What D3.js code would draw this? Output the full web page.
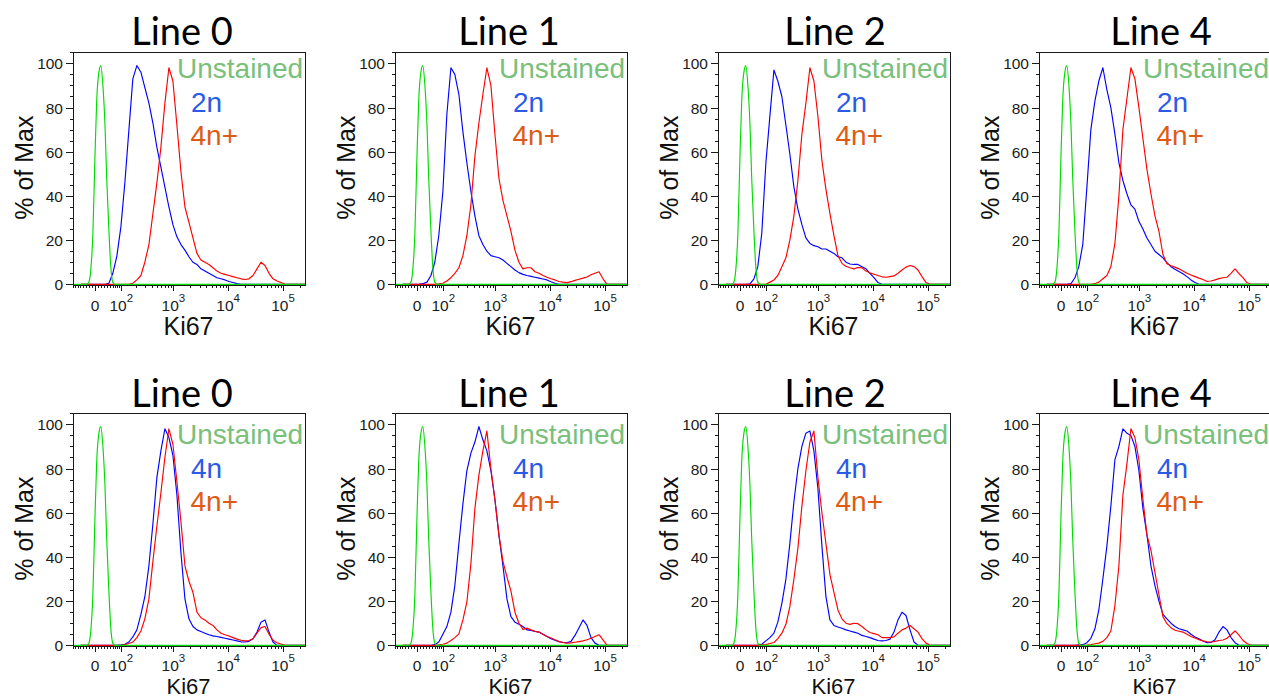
<!DOCTYPE html>
<html>
<head>
<meta charset="utf-8">
<script src="https://cdn.jsdelivr.net/npm/d3@7"></script>
<style>
  html, body { margin: 0; padding: 0; background: #fff; overflow: hidden; }
  svg { display: block; }
</style>
</head>
<body>
<svg id="fig" width="1269" height="699"></svg>
<script>
// ---------------------------------------------------------------
// Ki67 histograms (% of Max) per cell line, on a biexponential axis
// ---------------------------------------------------------------

// Ki67 channel value at each histogram bin centre
const KI67_BINS = [
  -48, -33, -20, -7, 5, 18, 32, 46, 61, 78,
  98, 120, 146, 175, 210, 251, 298, 355, 421, 499,
  591, 700, 829, 981, 1161, 1375, 1627, 1925, 2277, 2694,
  3187, 3770, 4460, 5277, 6242, 7385, 8736, 10335, 12227, 14465,
  17112, 20244, 23949, 28332, 33518, 39652, 46909, 55494, 65650, 77665,
  91879, 108694, 128587, 152120, 179960, 212895, 251857
];

// Unstained control (same in every panel)
const UNSTAINED_KI67 = [-80, -33, -27, -20, -14, -7, -1, 5, 12, 18, 25, 32, 38, 46, 53, 61, 70, 262144];
const UNSTAINED_PCT  = [0, 0, 0, 1, 6, 23, 55, 83, 96, 99, 90, 72, 48, 24, 8, 1, 0, 0];

// Top row: 2n vs 4n+
const TOP_LINE0_2N = [
  0, 0, 0, 0, 0, 0, 0, 0.5, 5, 12.5,
  26, 46, 70, 93, 99, 96, 89, 82, 73, 62,
  53, 44, 35, 27, 21.5, 18, 15.5, 12.5, 10, 9,
  7, 6, 5, 4, 3, 2.5, 2, 1.3, 0.8, 0.3,
  0, 0, 0, 0, 0, 0, 0, 0, 0, 0,
  0, 0, 0, 0, 0, 0, 0
];
const TOP_LINE0_4NPLUS = [
  0, 0, 0, 0, 0, 0, 0, 0, 0, 0,
  0, 0, 0, 0.5, 2, 4, 10, 18, 32, 46,
  62, 82, 98, 92, 72, 51, 35, 28, 21, 14,
  11, 10, 9, 7.5, 6, 5, 4.5, 4, 3.5, 3,
  2.5, 2.2, 2.5, 4, 7, 10, 8.5, 5, 2.5, 1.5,
  0.8, 0, 0, 0, 0, 0, 0
];
const TOP_LINE1_2N = [
  0, 0, 0, 0, 0, 0.3, 1, 4, 10, 22,
  42, 77, 98, 95, 86, 69, 55, 42, 31, 22,
  18, 15, 13, 12.5, 12, 11, 9.5, 8, 6.5, 5.3,
  4.5, 4, 3.6, 3.2, 2.8, 2.4, 2, 1.2, 0.5, 0,
  0, 0, 0, 0, 0, 0, 0, 0, 0, 0,
  0, 0, 0, 0, 0, 0, 0
];
const TOP_LINE1_4NPLUS = [
  0, 0, 0, 0, 0, 0, 0, 0, 0, 0.2,
  0.5, 1.5, 3, 5, 7.5, 13, 22, 36, 58, 73,
  86, 98, 90, 68, 48, 38, 31, 24, 15.5, 10,
  7, 7.5, 7.5, 5.7, 5, 4, 3.2, 2.5, 2, 1.3,
  1, 0.8, 1.2, 1.8, 2.3, 2.8, 3.3, 4.3, 5, 5.7,
  2.5, 0, 0, 0, 0, 0, 0
];
const TOP_LINE2_2N = [
  0, 0, 0, 0, 0, 0, 0.2, 2.5, 8, 23,
  55, 76, 97, 92, 85, 72, 59, 44, 34, 27,
  21, 18.5, 17.5, 17, 16, 16, 15, 14, 12.5, 12,
  10, 9.2, 9, 9, 8, 7, 5, 3, 0.8, 0,
  0, 0, 0, 0, 0, 0, 0, 0, 0, 0,
  0, 0, 0, 0, 0, 0, 0
];
const TOP_LINE2_4NPLUS = [
  0, 0, 0, 0, 0, 0, 0, 0, 0, 0,
  0, 1, 2, 4, 8, 12, 20, 31, 47, 68,
  82, 98, 92, 76, 56, 43, 32, 22, 13, 9.5,
  8.2, 7.5, 7, 7.6, 7.5, 6, 5.2, 4.6, 4, 3.4,
  3.2, 3.5, 3.8, 5, 6.5, 7.8, 8.5, 8, 6.5, 3.5,
  0.8, 0, 0, 0, 0, 0, 0
];
const TOP_LINE4_2N = [
  0, 0, 0, 0, 0, 0, 0.3, 3, 8, 18,
  44, 70, 83, 92, 98, 88, 80, 68, 55, 47,
  41, 36, 34, 28.5, 25, 21, 18, 15, 13.5, 12,
  9.8, 8, 6.8, 5.8, 4.8, 3.5, 2, 0.8, 0, 0,
  0, 0, 0, 0, 0, 0, 0, 0, 0, 0,
  0, 0, 0, 0, 0, 0, 0
];
const TOP_LINE4_4NPLUS = [
  0, 0, 0, 0, 0, 0, 0, 0, 0, 0,
  0, 0, 0.3, 1, 2.5, 4, 8, 18.5, 40, 70,
  84, 98, 93, 80, 66, 52, 41, 31, 24, 13.5,
  9.3, 8.4, 7.8, 7, 6, 5, 4.2, 3.5, 2.8, 2.2,
  1.3, 1.5, 2, 2.6, 3, 3.2, 5, 7, 4.8, 3,
  0.7, 0, 0, 0, 0, 0, 0
];

// Bottom row: 4n vs 4n+
const BOTTOM_LINE0_4N = [
  0, 0, 0, 0, 0, 0, 0, 0, 0, 0,
  0.2, 0.5, 1.5, 3.8, 7, 14, 22, 36, 55, 76,
  88, 98, 94, 86, 68, 42, 21, 12, 8.5, 7,
  6.3, 5.5, 4.8, 4.3, 4, 3.6, 3.2, 2.8, 2.4, 2,
  1.6, 1.5, 1.8, 3, 6, 10.5, 11.5, 6, 1.5, 0,
  0, 0, 0, 0, 0, 0, 0
];
const BOTTOM_LINE0_4NPLUS = [
  0, 0, 0, 0, 0, 0, 0, 0, 0, 0,
  0, 0.3, 0.8, 1.5, 3.5, 6.5, 12, 21, 38, 54,
  69, 85, 98, 91, 74, 56, 36, 29, 24, 15,
  12.5, 11.5, 10, 9, 7, 5.5, 4.8, 4.2, 3.5, 2.8,
  2.3, 2, 2.2, 3, 5.5, 8, 8.5, 5, 2.3, 1.2,
  0.6, 0, 0, 0, 0, 0, 0
];
const BOTTOM_LINE1_4N = [
  0, 0, 0, 0, 0, 0, 0, 0, 0.3, 1.5,
  5, 8.5, 15, 27, 46, 64, 79, 87, 92, 99,
  93, 88, 79, 66, 50, 36, 21, 13, 10.5, 9.5,
  8.5, 7, 6.7, 6.3, 6, 5, 4, 3, 2.3, 1.7,
  1.3, 1.2, 1.8, 4.5, 8, 11.5, 9, 3.5, 1, 0,
  0, 0, 0, 0, 0, 0, 0
];
const BOTTOM_LINE1_4NPLUS = [
  0, 0, 0, 0, 0, 0, 0, 0, 0, 0.2,
  0.5, 1, 2.2, 3.5, 5.2, 11.5, 19.5, 37, 62, 77,
  88, 97, 80, 66, 50, 38, 31, 24.5, 15, 10,
  7.2, 7.8, 7, 6.4, 6, 5, 4, 3.3, 2.5, 1.7,
  1.3, 1, 1.1, 1.4, 1.7, 2, 2.5, 3.2, 4, 4.8,
  2.5, 0, 0, 0, 0, 0, 0
];
const BOTTOM_LINE2_4N = [
  0, 0, 0, 0, 0, 0, 0, 0, 0.1, 0.5,
  2, 3.5, 5.5, 10.5, 19, 30, 46, 65, 80, 90,
  96, 97, 88, 71, 45, 22, 11.5, 9, 8.3, 7.7,
  7, 6.5, 6, 5.5, 4.5, 4, 3.5, 2.8, 2.2, 2,
  2.2, 2.8, 6, 11.5, 15, 13.5, 7, 1.5, 0, 0,
  0, 0, 0, 0, 0, 0, 0
];
const BOTTOM_LINE2_4NPLUS = [
  0, 0, 0, 0, 0, 0, 0, 0, 0, 0.2,
  0.3, 0.8, 1.3, 3, 5.5, 9.5, 17.5, 30, 44, 63,
  79, 92, 97, 76, 60, 46, 32, 24, 16, 12,
  10, 9.5, 10, 9.8, 8.5, 7, 5.8, 5.3, 4.8, 3.5,
  3.5, 3.5, 3.8, 5.5, 7, 7.8, 9, 7.5, 6, 3,
  1, 0, 0, 0, 0, 0, 0
];
const BOTTOM_LINE4_4N = [
  0, 0, 0, 0, 0, 0, 0, 0, 0.2, 0.3,
  1.2, 3.2, 7.5, 16, 30, 45, 63, 84, 90, 98,
  96, 95, 90, 79, 62, 50, 36, 27, 20, 14,
  12, 10, 8.5, 7.5, 7, 6.5, 5, 3.8, 3, 2,
  1.2, 1.3, 2.5, 6, 8.5, 7, 3.5, 1.2, 0, 0,
  0, 0, 0, 0, 0, 0, 0
];
const BOTTOM_LINE4_4NPLUS = [
  0, 0, 0, 0, 0, 0, 0, 0, 0, 0,
  0.1, 0.3, 0.7, 1, 1.8, 3.5, 6.5, 18, 36, 68,
  82, 98, 94, 84, 66, 50, 43, 33, 23, 13,
  9.8, 8, 6.8, 6.4, 6, 5, 4, 3.3, 2.6, 2,
  1.6, 1.5, 1.8, 2.2, 2.4, 3.2, 4.8, 6.5, 4.6, 2.2,
  0.8, 0, 0, 0, 0, 0, 0
];

// Panel titles and the population shown in blue
const PANEL_TITLES = ["Line 0", "Line 1", "Line 2", "Line 4", "Line 0", "Line 1", "Line 2", "Line 4"];
const BLUE_LABELS  = ["2n", "2n", "2n", "2n", "4n", "4n", "4n", "4n"];
const RED_LABEL = "4n+";
const UNSTAINED_LABEL = "Unstained";
const BLUE_SERIES = [TOP_LINE0_2N, TOP_LINE1_2N, TOP_LINE2_2N, TOP_LINE4_2N,
                     BOTTOM_LINE0_4N, BOTTOM_LINE1_4N, BOTTOM_LINE2_4N, BOTTOM_LINE4_4N];
const RED_SERIES  = [TOP_LINE0_4NPLUS, TOP_LINE1_4NPLUS, TOP_LINE2_4NPLUS, TOP_LINE4_4NPLUS,
                     BOTTOM_LINE0_4NPLUS, BOTTOM_LINE1_4NPLUS, BOTTOM_LINE2_4NPLUS, BOTTOM_LINE4_4NPLUS];

// Axis ticks
const Y_TICKS = [0, 20, 40, 60, 80, 100];
const Y_MINOR = [5, 10, 15, 25, 30, 35, 45, 50, 55, 65, 70, 75, 85, 90, 95, 105];
const X_MAJOR = [0, 100, 1000, 10000, 100000];
const X_MAJOR_BASE = ["0", "10", "10", "10", "10"];
const X_MAJOR_EXP  = ["", "2", "3", "4", "5"];
const X_MINOR = [-80, -70, -60, -50, -40, -30, -20, -10,
  10, 20, 30, 40, 50, 60, 70, 80, 90,
  200, 300, 400, 500, 600, 700, 800, 900,
  2000, 3000, 4000, 5000, 6000, 7000, 8000, 9000,
  20000, 30000, 40000, 50000, 60000, 70000, 80000, 90000, 200000];

// ---------------------------------------------------------------
// Layout
// ---------------------------------------------------------------
const COFACTOR = 75;                 // arcsinh cofactor of the Ki67 display
const T = v => Math.asinh(v / COFACTOR);
const X_DOMAIN = [-80, 262144];
const Y_DOMAIN = [-0.3, 105];
const PLOT_W = 233, PLOT_H = 232.7;
const COL_LEFT = [73, 395, 718, 1039];
const ROW_TOP = [52.3, 413.3];
const TITLE_X = [182, 509, 835, 1161];
const TITLE_BASELINE = [45, 406.5];
const LEGEND_SHIFT = [0, 5];
// the bottom row sits against the page edge, so its x labels are a bit tighter
const XTICK_OFFSET = [26, 25];
const XTITLE_OFFSET = [50, 48.3];
const XTITLE_SIZE = [25, 22];

const SANS = "'Liberation Sans', Arial, Helvetica, sans-serif";
const COLORS = {
  unstained: "#00dc00", blue: "#0000ff", red: "#ff0000",
  unstainedText: "#79c07b", blueText: "#2b5be6", redText: "#de5b16",
  frame: "#1a1a1a", text: "#1a1a1a"
};

const svg = d3.select("#fig");
svg.append("rect").attr("width", 1269).attr("height", 699).attr("fill", "#fff");

const x = d3.scaleLinear().domain(X_DOMAIN.map(T)).range([0, PLOT_W]);
const y = d3.scaleLinear().domain(Y_DOMAIN).range([PLOT_H, 0]);

const histLine = d3.line()
  .x(d => x(T(d[0])))
  .y(d => y(d[1]))
  .curve(d3.curveLinear);
const smoothLine = d3.line()
  .x(d => x(T(d[0])))
  .y(d => y(d[1]))
  .curve(d3.curveMonotoneX);

function drawPanel(i) {
  const row = Math.floor(i / 4), col = i % 4;
  const left = COL_LEFT[col], top = ROW_TOP[row];

  // title
  svg.append("text")
    .attr("x", TITLE_X[col]).attr("y", TITLE_BASELINE[row])
    .attr("text-anchor", "middle")
    .attr("font-family", "Lato, 'Open Sans', sans-serif")
    .attr("font-size", 38).attr("fill", "#000")
    .text(PANEL_TITLES[i]);

  const g = svg.append("g").attr("transform", `translate(${left},${top})`);

  // histograms: blue, red, then unstained on top
  const blue = KI67_BINS.map((k, j) => [k, BLUE_SERIES[i][j]]);
  const red = KI67_BINS.map((k, j) => [k, RED_SERIES[i][j]]);
  const unst = UNSTAINED_KI67.map((k, j) => [k, UNSTAINED_PCT[j]]);
  const clipId = "clip" + i;
  g.append("clipPath").attr("id", clipId)
    .append("rect").attr("x", 0).attr("y", -1).attr("width", PLOT_W).attr("height", PLOT_H + 2);
  const lines = g.append("g").attr("clip-path", `url(#${clipId})`)
    .attr("fill", "none").attr("stroke-width", 1.15).attr("stroke-linejoin", "round");
  lines.append("path").attr("d", histLine(blue)).attr("stroke", COLORS.blue);
  lines.append("path").attr("d", histLine(red)).attr("stroke", COLORS.red);
  lines.append("path").attr("d", smoothLine(unst)).attr("stroke", COLORS.unstained);

  // frame
  g.append("rect")
    .attr("x", 0.5).attr("y", 0.5)
    .attr("width", PLOT_W - 1).attr("height", PLOT_H)
    .attr("fill", "none").attr("stroke", COLORS.frame).attr("stroke-width", 1)
    .attr("shape-rendering", "crispEdges");

  // y axis
  const yAxis = g.append("g")
    .call(d3.axisLeft(y).tickValues(Y_TICKS).tickSize(7).tickSizeOuter(0).tickPadding(3));
  yAxis.select(".domain").remove();
  yAxis.selectAll("line").attr("stroke", COLORS.frame).attr("shape-rendering", "crispEdges");
  yAxis.selectAll("text")
    .attr("font-family", SANS).attr("font-size", 15.5).attr("fill", COLORS.text)
    .attr("dy", "0.36em");
  const yMinor = g.append("g")
    .call(d3.axisLeft(y).tickValues(Y_MINOR).tickSize(3).tickSizeOuter(0).tickFormat(""));
  yMinor.select(".domain").remove();
  yMinor.selectAll("line").attr("stroke", COLORS.frame).attr("shape-rendering", "crispEdges");

  // x axis
  const xAxis = g.append("g").attr("transform", `translate(0,${PLOT_H})`)
    .call(d3.axisBottom(x).tickValues(X_MAJOR.map(T)).tickSize(6).tickSizeOuter(0).tickFormat(""));
  xAxis.select(".domain").remove();
  xAxis.selectAll("line").attr("stroke", COLORS.frame).attr("shape-rendering", "crispEdges");
  const xMinor = g.append("g").attr("transform", `translate(0,${PLOT_H})`)
    .call(d3.axisBottom(x).tickValues(X_MINOR.map(T)).tickSize(3).tickSizeOuter(0).tickFormat(""));
  xMinor.select(".domain").remove();
  xMinor.selectAll("line").attr("stroke", COLORS.frame).attr("shape-rendering", "crispEdges");

  // x tick labels with superscript exponents
  X_MAJOR.forEach((v, j) => {
    const t = g.append("text")
      .attr("x", x(T(v))).attr("y", PLOT_H + XTICK_OFFSET[row])
      .attr("text-anchor", "middle")
      .attr("font-family", SANS).attr("font-size", 15.5).attr("fill", COLORS.text);
    t.append("tspan").text(X_MAJOR_BASE[j]);
    if (X_MAJOR_EXP[j]) {
      t.append("tspan").attr("dy", -8.5).attr("font-size", 11.5).text(X_MAJOR_EXP[j]);
    }
  });

  // axis titles
  g.append("text")
    .attr("x", PLOT_W / 2 - 1).attr("y", PLOT_H + XTITLE_OFFSET[row])
    .attr("text-anchor", "middle")
    .attr("font-family", SANS).attr("font-size", XTITLE_SIZE[row]).attr("fill", "#111")
    .text("Ki67");
  g.append("text")
    .attr("transform", `translate(-40.5,${PLOT_H / 2 - 1}) rotate(-90)`)
    .attr("text-anchor", "middle")
    .attr("font-family", SANS).attr("font-size", 25).attr("fill", "#111")
    .text("% of Max");

  // legend
  const ls = LEGEND_SHIFT[row];
  g.append("text").attr("x", 104).attr("y", 26 + ls)
    .attr("font-family", SANS).attr("font-size", 28).attr("fill", COLORS.unstainedText)
    .text(UNSTAINED_LABEL);
  g.append("text").attr("x", 118).attr("y", 59.4 + ls)
    .attr("font-family", SANS).attr("font-size", 28).attr("fill", COLORS.blueText)
    .text(BLUE_LABELS[i]);
  g.append("text").attr("x", 117.5).attr("y", 92.7 + ls)
    .attr("font-family", SANS).attr("font-size", 28).attr("fill", COLORS.redText)
    .text(RED_LABEL);
}

for (let i = 0; i < 8; i++) drawPanel(i);
</script>
</body>
</html>
